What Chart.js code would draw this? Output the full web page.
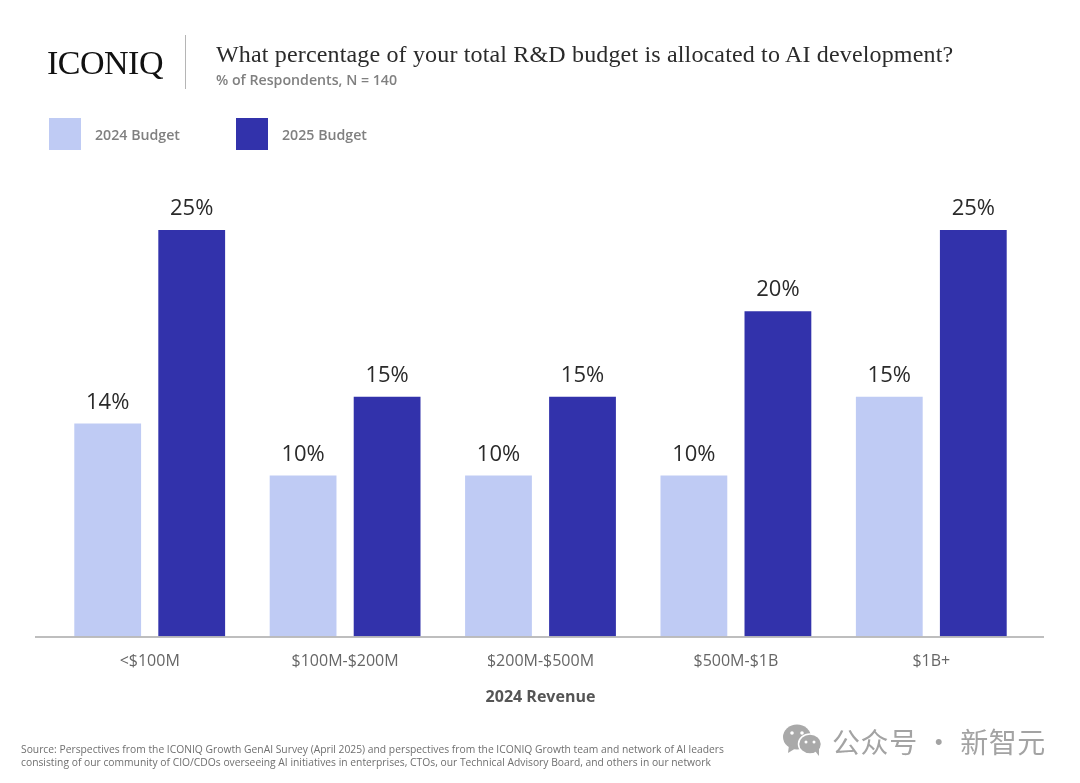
<!DOCTYPE html>
<html><head><meta charset="utf-8">
<style>
html,body{margin:0;padding:0;background:#fff;width:1080px;height:783px;overflow:hidden}
#w{position:relative;width:1080px;height:783px}
#c{position:absolute;left:0;top:0}
.t{position:absolute;white-space:nowrap;line-height:1}
.sw{position:absolute;width:32px;height:32px;top:118px}
</style></head><body>
<div id="w"><canvas id="c" width="1080" height="783"></canvas>
<div class="t" style="left:47px;top:44px;font:34px 'Liberation Serif';letter-spacing:-0.5px;color:#111">ICONIQ</div>
<div style="position:absolute;left:185px;top:35px;width:1px;height:54px;background:#b5b5b5"></div>
<div class="t" id="title" style="left:216px;top:41px;font:24px 'Liberation Serif';letter-spacing:0.16px;color:#2b2b2b"></div>
<div class="t" id="sub" style="left:216px;top:70px;font:600 14.2px 'Open Sans';color:#808080"></div>
<div id="legend"></div>
<div class="t" id="src" style="left:21px;top:743px;font:10.3px/12.5px 'Open Sans';color:#6f6f6f"></div>
<svg style="position:absolute;left:782px;top:723px" width="42" height="34" viewBox="0 0 42 34">
<ellipse cx="15" cy="14" rx="14" ry="12.5" fill="#a9a9a9"/><path d="M7 22 L6 30 L14 25Z" fill="#a9a9a9"/>
<ellipse cx="28" cy="21" rx="11.5" ry="10" fill="#a9a9a9" stroke="#fff" stroke-width="1.5"/><path d="M33 28 L37 33 L37 25Z" fill="#a9a9a9"/>
<circle cx="10" cy="10" r="1.8" fill="#fff"/><circle cx="20" cy="10" r="1.8" fill="#fff"/><circle cx="24" cy="19" r="1.5" fill="#fff"/><circle cx="32" cy="19" r="1.5" fill="#fff"/></svg>
<div class="t" id="wm" style="left:832px;top:721px;font:28px 'Noto Sans CJK SC';letter-spacing:0.6px;color:#a3a3a3"></div>
</div>
<script src="https://cdn.jsdelivr.net/npm/chart.js@4"></script>
<script>
const categories=['<$100M','$100M-$200M','$200M-$500M','$500M-$1B','$1B+'];
const seriesNames=['2024 Budget','2025 Budget'];
const budget2024=[13.1,9.9,9.9,9.9,14.75];
const budget2025=[25,14.75,14.75,20,25];
const labels2024=['14%','10%','10%','10%','15%'];
const labels2025=['25%','15%','15%','20%','25%'];
const seriesColors=['#bfcbf4','#3232ab'];
const titleText='What percentage of your total R&D budget is allocated to AI development?';
const subText='% of Respondents, N = 140';
const xTitle='2024 Revenue';
const sourceLines=['Source: Perspectives from the ICONIQ Growth GenAI Survey (April 2025) and perspectives from the ICONIQ Growth team and network of AI leaders','consisting of our community of CIO/CDOs overseeing AI initiatives in enterprises, CTOs, our Technical Advisory Board, and others in our network'];
const watermark='公众号 · 新智元';

document.getElementById('title').textContent=titleText;
document.getElementById('sub').textContent=subText;
document.getElementById('src').innerHTML=sourceLines.join('<br>');
document.getElementById('wm').textContent=watermark;
const lg=document.getElementById('legend');
[[49,95],[236,282]].forEach((p,i)=>{
  const s=document.createElement('div');s.className='sw';s.style.left=p[0]+'px';s.style.background=seriesColors[i];lg.appendChild(s);
  const t=document.createElement('div');t.className='t';t.textContent=seriesNames[i];
  t.style.cssText+=`left:${p[1]}px;top:125px;font:600 14.2px 'Open Sans';color:#808080`;lg.appendChild(t);
});

const extras={id:'extras',
 afterDraw(ch){
  const {ctx,scales:{y}}=ch;
  ctx.save();
  ctx.strokeStyle='#a8a8a8';ctx.lineWidth=1.5;
  ctx.beginPath();ctx.moveTo(35,y.bottom+.5);ctx.lineTo(1044,y.bottom+.5);ctx.stroke();
  ctx.font="22px 'Open Sans'";ctx.fillStyle='#2a2a2a';ctx.textAlign='center';ctx.textBaseline='alphabetic';
  [labels2024,labels2025].forEach((L,d)=>{
    ch.getDatasetMeta(d).data.forEach((b,i)=>ctx.fillText(L[i],b.x,b.y-15));
  });
  ctx.restore();
 }};
new Chart(document.getElementById('c'),{
 type:'bar',
 data:{labels:categories,datasets:[
  {label:seriesNames[0],data:budget2024,backgroundColor:seriesColors[0],barPercentage:.795,categoryPercentage:.86},
  {label:seriesNames[1],data:budget2025,backgroundColor:seriesColors[1],barPercentage:.795,categoryPercentage:.86}]},
 options:{responsive:false,animation:false,devicePixelRatio:1,
  layout:{padding:{left:52,right:51,top:230,bottom:76}},
  plugins:{legend:{display:false},tooltip:{enabled:false}},
  scales:{
   y:{display:false,min:0,max:25},
   x:{grid:{display:false},border:{display:false},
      ticks:{color:'#666',font:{family:'Open Sans',size:16},padding:7,maxRotation:0,autoSkip:false},
      title:{display:true,text:xTitle,color:'#555',font:{family:'Open Sans',size:16,weight:'bold'},padding:{top:10,bottom:0}}}
  }},
 plugins:[extras]
});
</script></body></html>
